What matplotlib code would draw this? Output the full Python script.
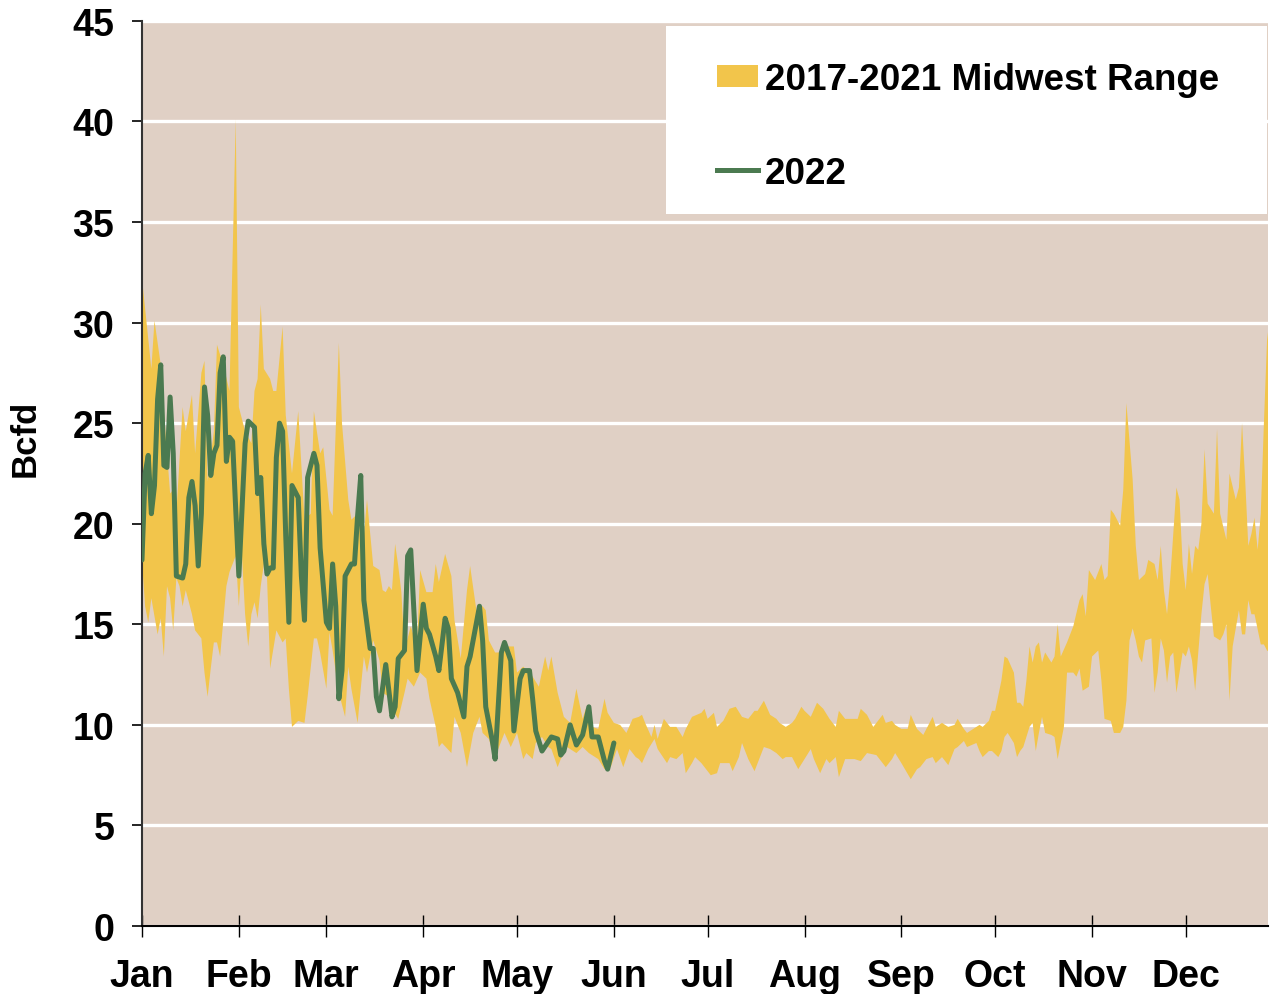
import numpy as np
import matplotlib
matplotlib.use("Agg")
import matplotlib.pyplot as plt
from matplotlib.patches import Patch, Rectangle
from matplotlib.lines import Line2D

# 2017-2021 Midwest range, upper envelope (day of year, Bcfd)
up_days = [0, 3, 4, 6, 7, 9, 10, 11, 13, 14, 16, 17, 19, 20, 21, 23, 24, 26, 28, 30,
           31, 33, 35, 36, 37, 38, 39, 41, 42, 43, 45, 46, 48, 50, 52, 54, 55, 57, 58, 60,
           61, 63, 64, 66, 67, 69, 71, 72, 74, 76, 77, 78, 79, 80, 81, 82, 83, 84, 86, 88,
           89, 91, 93, 94, 95, 97, 99, 100, 102, 104, 105, 107, 109, 110, 111, 113, 115, 117, 119, 120,
           122, 125, 127, 129, 130, 131, 133, 135, 137, 139, 141, 142, 144, 146, 148, 149, 151, 153, 155, 157,
           159, 160, 161, 163, 164, 165, 167, 169, 171, 173, 174, 176, 179, 180, 181, 183, 184, 186, 188, 190,
           192, 194, 196, 197, 199, 201, 203, 204, 206, 208, 209, 211, 212, 214, 216, 218, 220, 222, 223, 225,
           229, 230, 232, 234, 237, 238, 240, 241, 243, 245, 246, 248, 250, 253, 254, 256, 258, 260, 261, 263,
           264, 266, 268, 269, 271, 272, 273, 275, 276, 277, 279, 280, 281, 282, 283, 284, 285, 286, 287, 288,
           289, 291, 292, 293, 294, 296, 298, 300, 301, 302, 303, 305, 307, 308, 309, 310, 311, 313, 314, 315,
           317, 318, 319, 321, 322, 324, 325, 326, 327, 328, 329, 331, 332, 333, 334, 335, 336, 337, 338, 339,
           340, 341, 343, 344, 345, 347, 348, 350, 351, 352, 353, 354, 355, 356, 357, 358, 359, 360, 361]
up_vals = [32.2, 27.7, 30.1, 27.9, 25.6, 21.5, 21.7, 20.5, 25.8, 24.6, 26.4, 23.5, 27.5, 28.1, 22.1, 24.6, 28.9, 27.9, 26.6, 40.1,
           25.8, 24.6, 24.0, 26.6, 27.2, 30.9, 27.7, 27.2, 26.6, 26.6, 29.8, 25.4, 22.5, 25.6, 20.2, 20.5, 25.6, 23.5, 23.8, 20.7,
           20.4, 29.0, 25.0, 21.2, 20.2, 20.5, 19.4, 21.2, 17.9, 17.7, 16.7, 16.6, 16.9, 16.7, 19.0, 17.9, 16.6, 13.7, 14.9, 13.9,
           17.7, 16.6, 16.6, 18.0, 17.1, 18.5, 17.4, 15.2, 13.3, 16.7, 17.9, 15.7, 15.9, 15.7, 14.2, 13.6, 13.6, 13.9, 13.9, 12.6,
           12.9, 12.4, 11.9, 13.4, 12.7, 13.4, 11.6, 10.4, 10.1, 11.8, 10.3, 10.8, 9.9, 9.8, 11.3, 10.6, 10.1, 10.0, 9.6, 10.3,
           10.4, 10.5, 10.1, 9.4, 10.0, 9.3, 10.3, 9.9, 9.9, 9.4, 9.8, 10.4, 10.6, 10.8, 10.3, 10.6, 9.9, 10.2, 10.8, 10.9,
           10.4, 10.3, 10.7, 10.7, 11.2, 10.5, 10.3, 10.1, 9.9, 10.1, 10.3, 10.9, 10.7, 10.4, 11.1, 10.8, 10.3, 9.9, 10.7, 10.3,
           10.3, 10.8, 10.5, 9.9, 10.5, 10.1, 10.2, 10.0, 9.8, 9.8, 10.5, 9.8, 9.5, 10.4, 9.9, 10.1, 9.9, 10.0, 10.3, 9.8,
           9.6, 9.8, 10.0, 9.9, 10.2, 10.7, 10.7, 12.2, 13.4, 13.3, 12.6, 11.1, 11.1, 10.9, 12.2, 13.9, 13.1, 13.9, 14.1, 13.1,
           13.6, 13.1, 13.4, 15.0, 13.4, 14.1, 14.9, 16.2, 16.5, 15.4, 17.7, 17.2, 18.0, 17.2, 17.4, 20.7, 20.5, 19.9, 21.7, 26.0,
           22.2, 18.9, 17.2, 17.5, 18.2, 18.0, 17.2, 18.9, 16.7, 15.5, 17.2, 21.8, 21.2, 18.0, 16.7, 19.0, 17.5, 18.9, 18.7, 20.0,
           23.7, 21.0, 20.5, 24.7, 20.5, 19.2, 22.5, 21.2, 21.8, 25.0, 22.2, 18.9, 19.5, 20.3, 18.7, 20.5, 25.0, 29.1, 30.5]

# 2017-2021 Midwest range, lower envelope
lo_days = [0, 1, 2, 3, 5, 6, 7, 8, 9, 10, 11, 12, 13, 14, 16, 17, 19, 20, 21, 22,
           23, 24, 25, 27, 28, 30, 31, 32, 33, 34, 35, 36, 37, 38, 39, 40, 41, 43, 45, 46,
           47, 48, 50, 52, 53, 55, 56, 57, 59, 60, 61, 63, 65, 66, 67, 69, 70, 71, 72, 74,
           76, 77, 79, 80, 82, 84, 85, 87, 89, 91, 92, 94, 95, 96, 99, 100, 102, 104, 106, 108,
           109, 111, 112, 114, 116, 118, 120, 122, 123, 125, 126, 128, 130, 131, 133, 134, 136, 139, 141, 143,
           146, 148, 150, 152, 154, 156, 158, 159, 160, 162, 164, 165, 168, 169, 171, 173, 174, 176, 177, 179,
           182, 184, 185, 188, 189, 191, 192, 194, 196, 197, 199, 201, 203, 205, 206, 208, 210, 212, 214, 215,
           217, 219, 220, 222, 223, 225, 228, 230, 232, 235, 237, 238, 240, 241, 243, 246, 248, 249, 251, 253,
           254, 256, 258, 260, 261, 263, 264, 267, 268, 269, 271, 272, 274, 275, 276, 277, 279, 280, 281, 282,
           284, 285, 286, 287, 288, 289, 291, 292, 293, 295, 296, 298, 299, 300, 301, 303, 304, 306, 307, 308,
           310, 311, 313, 314, 315, 316, 317, 318, 319, 320, 321, 323, 324, 325, 326, 327, 328, 329, 330, 331,
           333, 334, 335, 336, 337, 339, 340, 341, 342, 343, 345, 346, 347, 348, 349, 351, 352, 353, 354, 355,
           356, 358, 359, 360, 361]
lo_vals = [18.2, 15.9, 15.1, 16.3, 14.5, 15.3, 13.4, 16.9, 16.3, 14.7, 17.3, 16.9, 15.9, 16.7, 15.5, 14.7, 14.3, 12.6, 11.4, 12.8,
           14.1, 14.1, 13.4, 16.9, 17.6, 18.4, 15.9, 18.4, 15.5, 13.9, 15.5, 16.1, 15.3, 16.9, 18.0, 17.4, 12.8, 14.7, 14.1, 14.3,
           11.8, 9.9, 10.2, 10.1, 11.4, 14.3, 14.3, 13.6, 11.8, 14.6, 13.7, 11.6, 10.4, 12.9, 11.8, 10.1, 11.8, 13.4, 12.6, 14.2,
           13.2, 11.6, 11.4, 10.8, 10.3, 11.6, 12.3, 11.9, 12.6, 12.3, 11.3, 9.9, 8.9, 9.1, 8.6, 10.4, 9.6, 7.9, 9.6, 10.4,
           9.6, 9.3, 8.8, 8.8, 9.6, 8.9, 9.6, 8.3, 8.6, 8.3, 9.1, 9.4, 8.9, 8.8, 7.9, 8.3, 8.9, 8.6, 8.9, 8.6,
           8.3, 7.8, 7.9, 8.8, 7.9, 8.8, 8.4, 8.3, 8.1, 8.8, 9.3, 8.8, 8.1, 8.4, 8.3, 8.6, 7.6, 8.1, 8.4, 8.1,
           7.5, 7.6, 8.1, 8.1, 7.7, 8.4, 9.1, 8.3, 7.7, 8.1, 8.9, 8.8, 8.6, 8.3, 8.4, 8.4, 7.8, 8.3, 8.8, 8.3,
           7.6, 8.3, 8.1, 8.4, 7.4, 8.3, 8.3, 8.2, 8.6, 8.5, 8.1, 7.9, 8.3, 8.6, 8.1, 7.3, 7.8, 7.9, 8.3, 8.4,
           8.1, 8.4, 8.0, 8.8, 8.9, 9.2, 8.9, 9.1, 8.7, 8.4, 8.7, 8.7, 8.4, 8.7, 9.4, 9.6, 9.1, 8.4, 8.7, 8.9,
           9.9, 10.1, 8.7, 9.6, 10.4, 9.6, 9.5, 9.4, 8.3, 9.9, 12.6, 12.6, 12.4, 12.8, 11.7, 11.9, 13.4, 13.7, 12.2, 10.3,
           10.2, 9.6, 9.6, 9.9, 11.2, 14.2, 14.8, 14.2, 13.4, 13.1, 14.2, 14.3, 11.6, 12.6, 14.3, 13.7, 12.1, 13.4, 13.6, 11.6,
           13.6, 13.4, 13.9, 13.2, 11.7, 15.5, 17.0, 17.5, 15.9, 14.4, 14.2, 14.5, 15.0, 11.2, 13.9, 15.7, 14.5, 14.5, 16.2, 15.5,
           15.5, 14.0, 14.0, 13.7, 13.6]

# 2022 daily values
days_2022 = [0, 1, 2, 3, 4, 5, 6, 7, 8, 9, 10, 11, 13, 14, 15, 16, 17, 18, 19, 20,
             21, 22, 23, 24, 25, 26, 27, 28, 29, 30, 31, 33, 34, 36, 37, 38, 39, 40, 41, 42,
             43, 44, 45, 46, 47, 48, 50, 51, 52, 53, 55, 56, 57, 59, 60, 61, 62, 63, 64, 65,
             67, 68, 69, 70, 71, 73, 74, 75, 76, 78, 80, 81, 82, 84, 85, 86, 88, 90, 91, 92,
             94, 95, 97, 98, 99, 101, 103, 104, 105, 108, 109, 110, 112, 113, 115, 116, 118, 119, 121, 122,
             124, 125, 126, 128, 131, 133, 134, 135, 137, 139, 141, 143, 144, 146, 148, 149, 151]
vals_2022 = [18.2, 22.5, 23.4, 20.5, 21.9, 26.2, 27.9, 22.9, 22.8, 26.3, 23.5, 17.4, 17.3, 18.0, 21.3, 22.1, 20.9, 17.9, 20.5, 26.8,
             25.4, 22.4, 23.5, 23.9, 27.5, 28.3, 23.1, 24.3, 24.1, 20.7, 17.4, 24.0, 25.1, 24.8, 21.5, 22.3, 19.0, 17.5, 17.8, 17.8,
             23.3, 25.0, 24.6, 19.4, 15.1, 21.9, 21.3, 17.4, 15.2, 22.3, 23.5, 22.9, 18.8, 15.1, 14.8, 18.0, 15.9, 11.3, 12.7, 17.4,
             18.0, 18.0, 20.4, 22.4, 16.2, 13.8, 13.8, 11.4, 10.7, 13.0, 10.4, 10.9, 13.3, 13.7, 18.4, 18.7, 12.7, 16.0, 14.8, 14.5,
             13.4, 12.7, 15.3, 14.8, 12.3, 11.6, 10.4, 12.9, 13.4, 15.9, 14.2, 10.9, 9.3, 8.3, 13.6, 14.1, 13.2, 9.7, 12.3, 12.7,
             12.7, 11.3, 9.7, 8.7, 9.4, 9.3, 8.5, 8.7, 10.0, 9.0, 9.5, 10.9, 9.4, 9.4, 8.2, 7.8, 9.1]

month_days = [0, 31, 59, 90, 120, 151, 181, 212, 243, 273, 304, 334]
month_labels = ['Jan', 'Feb', 'Mar', 'Apr', 'May', 'Jun', 'Jul', 'Aug', 'Sep', 'Oct', 'Nov', 'Dec']

band_color = '#f2c54b'
line_color = '#4b7a50'

plt.rcParams['font.family'] = ['Liberation Sans', 'DejaVu Sans']
plt.rcParams['font.weight'] = 'bold'

fig = plt.figure(figsize=(12.7, 9.95), dpi=100)
ax = fig.add_axes([0.1118, 0.0683, 0.8866, 0.9097])
ax.set_facecolor('#e0d0c5')

# band as one polygon: upper edge forward, lower edge back
poly_x = np.concatenate([up_days, lo_days[::-1]])
poly_y = np.concatenate([up_vals, lo_vals[::-1]])
ax.fill(poly_x, poly_y, color=band_color, lw=0, zorder=2)

ax.plot(days_2022, vals_2022, color=line_color, lw=3.6, zorder=3,
        solid_joinstyle='round', solid_capstyle='round')

ax.set_xlim(0, 360.3)
ax.set_ylim(0, 45)
ax.set_yticks(range(0, 50, 5))
ax.set_xticks(month_days)
ax.set_xticklabels(month_labels)
ax.yaxis.grid(True, color='white', lw=2.4)
ax.set_axisbelow(True)

for s in ['top', 'right']:
    ax.spines[s].set_visible(False)
ax.spines['left'].set_color('#333333')
ax.spines['left'].set_linewidth(1.5)
ax.spines['bottom'].set_color('black')
ax.spines['bottom'].set_linewidth(1.5)

ax.tick_params(axis='y', direction='out', length=7, width=1.2, labelsize=27, pad=13)
ax.tick_params(axis='x', direction='inout', length=16, width=1, labelsize=27, pad=15)
ax.set_ylabel('Bcfd', fontsize=25, fontweight='bold')
ax.yaxis.set_label_coords(-0.089, 0.54)

# white legend box
ax.add_patch(Rectangle((0.465, 0.787), 0.534, 0.207, transform=ax.transAxes,
                       facecolor='white', edgecolor='none', zorder=5))
handles = [Patch(facecolor=band_color, edgecolor='none'),
           Line2D([0], [0], color=line_color, lw=3.6)]
leg = ax.legend(handles, ['2017-2021 Midwest Range', '2022'],
                loc='upper left', bbox_to_anchor=(0.5107, 0.955), frameon=False,
                prop={'size': 26.5, 'weight': 'bold'}, handlelength=1.1, handleheight=0.55,
                handletextpad=0.2, labelspacing=1.6, borderpad=0, borderaxespad=0)
leg.set_zorder(6)

fig.savefig('out.png', dpi=100)
